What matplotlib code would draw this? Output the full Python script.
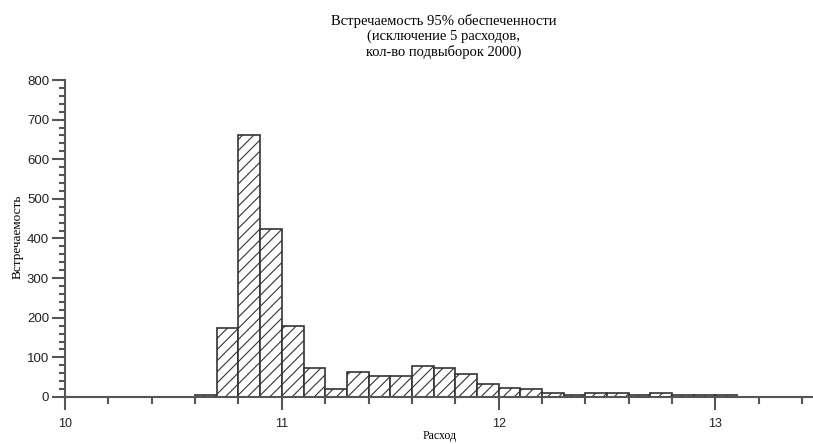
import matplotlib
matplotlib.use("Agg")
import matplotlib.pyplot as plt
import numpy as np
from matplotlib.ticker import MultipleLocator

# histogram bins (left edges) and counts
bin_left = [round(10.0 + 0.1 * i, 1) for i in range(35)]
counts = [0, 0, 0, 0, 0, 0,
          5, 173, 661, 424, 180, 73, 19, 63, 53, 53, 78, 74, 58, 34,
          23, 19, 9, 4, 9, 9, 4, 9, 4, 4, 4,
          0, 0, 0, 0]

title = "Встречаемость 95% обеспеченности\n(исключение 5 расходов,\nкол-во подвыборок 2000)"

plt.rcParams['hatch.linewidth'] = 0.8

fig = plt.figure(figsize=(8.13, 4.44), dpi=100)
ax = fig.add_axes([0.080, 0.1059, 0.92, 0.7139])

ax.bar(bin_left, counts, width=0.1, align='edge', color='white',
       edgecolor='#333333', linewidth=1.2, hatch='///')

ax.set_xlim(10, 13.45)
ax.set_ylim(0, 800)

ax.xaxis.set_major_locator(MultipleLocator(1))
ax.xaxis.set_minor_locator(MultipleLocator(0.2))
ax.yaxis.set_major_locator(MultipleLocator(100))
ax.yaxis.set_minor_locator(MultipleLocator(20))

for s in ['top', 'right']:
    ax.spines[s].set_visible(False)
for s in ['left', 'bottom']:
    ax.spines[s].set_color('#555555')
    ax.spines[s].set_linewidth(1.5)

ax.tick_params(axis='x', which='major', length=9, width=1.5, color='#555555',
               pad=6, labelsize=9, labelcolor='#222222')
ax.tick_params(axis='x', which='minor', length=5, width=1.5, color='#555555')
ax.tick_params(axis='y', which='major', length=9.5, width=1.5, color='#555555',
               pad=2, labelsize=9.5, labelcolor='#222222')
ax.tick_params(axis='y', which='minor', length=4.5, width=1.5, color='#555555')
for lab in ax.get_xticklabels() + ax.get_yticklabels():
    lab.set_family('Liberation Sans')

fig.text(0.546, 0.968, title, ha='center', va='top', family='Liberation Serif',
         fontsize=10.5, linespacing=1.15)
fig.text(0.541, 0.005, "Расход", ha='center', va='bottom',
         family='Liberation Serif', fontsize=8.5)
fig.text(0.022, 0.466, "Встречаемость", ha='center', va='center', rotation=90,
         family='Liberation Serif', fontsize=9.5)

fig.savefig("out.png", dpi=100)
